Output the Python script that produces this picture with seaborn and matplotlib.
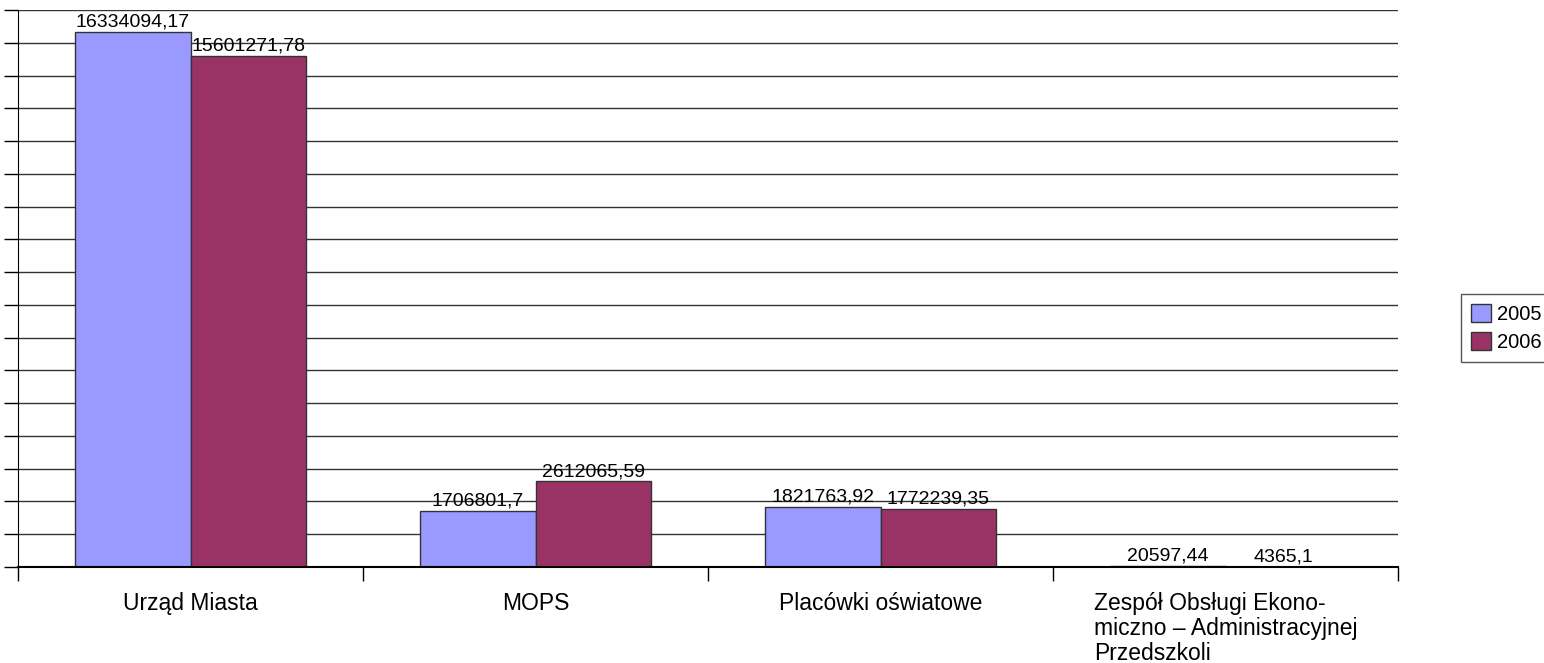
import pandas as pd
import seaborn as sns
import matplotlib.pyplot as plt

# --- data ---
categories = ["Urząd Miasta", "MOPS", "Placówki oświatowe",
              "Zespół Obsługi Ekono-\nmiczno – Administracyjnej\nPrzedszkoli"]
years = ["2005", "2006"]
values_2005 = [16334094.17, 1706801.7, 1821763.92, 20597.44]
values_2006 = [15601271.78, 2612065.59, 1772239.35, 4365.1]
colors = ["#9999FF", "#993366"]

df = pd.DataFrame({
    "jednostka": categories * 2,
    "rok": [years[0]] * 4 + [years[1]] * 4,
    "kwota": values_2005 + values_2006,
})

# --- plot ---
sns.set_style("white")
plt.rcParams["font.family"] = ["Liberation Sans", "DejaVu Sans"]
plt.rcParams["text.color"] = "black"

fig = plt.figure(figsize=(15.44, 6.63), dpi=100)
ax = fig.add_axes([18 / 1544, 96 / 663, 1380 / 1544, 557 / 663])

sns.barplot(data=df, x="jednostka", y="kwota", hue="rok", order=categories,
            hue_order=years, palette=colors, width=0.667, gap=0,
            edgecolor="#333333", linewidth=1, saturation=1, ax=ax, legend=True)

for cont, vals in zip(ax.containers, [values_2005, values_2006]):
    ax.bar_label(cont, labels=[str(v).replace(".", ",") for v in vals],
                 padding=1, fontsize=14, color="black")

# y axis: gridlines every 1 mln, no labels
ax.set_ylim(0, 17_000_000)
ax.set_yticks(range(0, 17_000_001, 1_000_000))
ax.set_yticklabels([])
ax.yaxis.grid(True, color="#333333", linewidth=1)
ax.set_axisbelow(True)
ax.tick_params(axis="y", direction="out", length=10, width=1, color="black", left=True)

# x axis: ticks at group boundaries, labels at centres
ax.set_xlim(-0.5, 3.5)
ax.set_xticks([-0.5, 0.5, 1.5, 2.5, 3.5], minor=True)
ax.tick_params(axis="x", which="minor", direction="out", length=10, width=1, color="black", bottom=True)
ax.tick_params(axis="x", which="major", length=0, pad=18, labelsize=16.5, labelcolor="black")
ax.set_xticks(range(4))
ax.set_xticklabels(categories, va="top", ma="left", linespacing=1.1)
ax.set_xlabel("")
ax.set_ylabel("")

for side in ["top", "right"]:
    ax.spines[side].set_visible(False)
ax.spines["left"].set_color("black")
ax.spines["bottom"].set_color("black")
ax.spines["bottom"].set_linewidth(1.5)

ax.get_legend().remove()
handles = [plt.Rectangle((0, 0), 1, 1, facecolor=c, edgecolor="#333333") for c in colors]
fig.legend(handles, years, loc="center left", bbox_to_anchor=(1461 / 1544, 0.505),
           fontsize=14.5, frameon=True, fancybox=False, edgecolor="#555555",
           framealpha=1, handlelength=1.0, handleheight=1.0, handletextpad=0.3,
           borderpad=0.5, labelspacing=0.4, borderaxespad=0)

plt.savefig("out.png", dpi=100)
